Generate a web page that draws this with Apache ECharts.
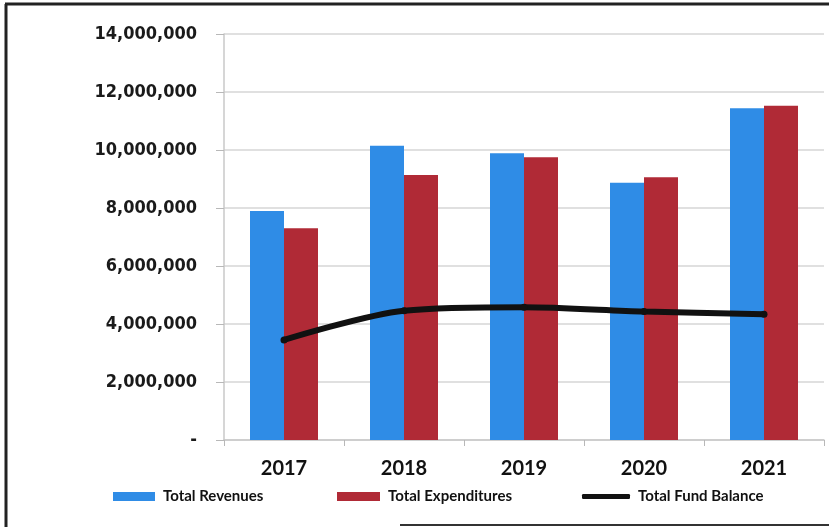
<!DOCTYPE html>
<html>
<head>
<meta charset="utf-8">
<script src="https://cdn.jsdelivr.net/npm/echarts@6/dist/echarts.min.js"></script>
<style>
  html, body { margin: 0; padding: 0; background: #fff; }
  #chart { width: 829px; height: 527px; }
</style>
</head>
<body>
<div id="chart"></div>
<script>
// Fiscal years and fund totals (dollars)
const years = ['2017', '2018', '2019', '2020', '2021'];
const totalRevenues = [7900000, 10150000, 9890000, 8870000, 11440000];
const totalExpenditures = [7300000, 9140000, 9750000, 9060000, 11530000];
const totalFundBalance = [3450000, 4460000, 4580000, 4430000, 4340000];
const yTicks = { min: 0, max: 14000000, interval: 2000000 };

const BLUE = '#2f8ce6';
const RED = '#b02a36';
const BLACK = '#111111';

const chart = echarts.init(document.getElementById('chart'));

function fmt(v) {
  if (v === 0) return '-';
  return String(v).replace(/\B(?=(\d{3})+(?!\d))/g, ',');
}

const legendText = {
  fontFamily: 'Lato, "Liberation Sans Narrow", sans-serif',
  fontWeight: 'bold',
  fontSize: 15,
  color: '#111',
  padding: [0, 0, 0, 3]
};

chart.setOption({
  backgroundColor: '#ffffff',
  animation: false,
  grid: { left: 224, right: 5, top: 34, bottom: 87 },
  legend: [
    { data: [{ name: 'Total Revenues', icon: 'rect' }], left: 113, top: 489, itemWidth: 42, itemHeight: 9, textStyle: legendText, itemGap: 0, padding: 0 },
    { data: [{ name: 'Total Expenditures', icon: 'rect' }], left: 337, top: 489, itemWidth: 43, itemHeight: 9, textStyle: legendText, itemGap: 0, padding: 0 },
    {
      data: [{ name: 'Total Fund Balance', icon: 'roundRect' }],
      left: 582, top: 489, itemWidth: 48, itemHeight: 5,
      itemStyle: { color: BLACK },
      textStyle: legendText, itemGap: 0, padding: 0
    }
  ],
  xAxis: {
    type: 'category',
    data: years,
    axisLine: { show: true, lineStyle: { color: '#c8c8c8', width: 1.5 } },
    axisTick: { show: true, alignWithLabel: false, length: 6, lineStyle: { color: '#b8b8b8' } },
    axisLabel: {
      margin: 19,
      fontFamily: 'Lato, sans-serif',
      fontWeight: 'bold',
      fontSize: 20,
      color: '#111'
    }
  },
  yAxis: {
    type: 'value',
    min: yTicks.min,
    max: yTicks.max,
    interval: yTicks.interval,
    axisLine: { show: true, lineStyle: { color: '#c8c8c8', width: 1.5 } },
    axisTick: { show: true, inside: false, length: 8, lineStyle: { color: '#b8b8b8' } },
    splitLine: { show: true, lineStyle: { color: '#d6d6d6', width: 1.5 } },
    axisLabel: {
      margin: 27,
      fontFamily: '"DejaVu Sans Condensed", "DejaVu Sans", sans-serif',
      fontWeight: 'bold',
      fontSize: 18,
      color: '#1a1a1a',
      formatter: fmt
    }
  },
  series: [
    {
      name: 'Total Revenues',
      type: 'bar',
      data: totalRevenues,
      barWidth: 34,
      barGap: '0%',
      itemStyle: { color: BLUE }
    },
    {
      name: 'Total Expenditures',
      type: 'bar',
      data: totalExpenditures,
      barWidth: 34,
      barGap: '0%',
      itemStyle: { color: RED }
    },
    {
      name: 'Total Fund Balance',
      type: 'line',
      data: totalFundBalance,
      smooth: 0.3,
      symbol: 'circle',
      symbolSize: 7,
      itemStyle: { color: BLACK },
      lineStyle: { color: BLACK, width: 6 },
      z: 5
    }
  ],
  graphic: [
    // outer frame pieces
    { type: 'line', shape: { x1: 6, y1: 4, x2: 6, y2: 527 }, style: { stroke: '#222', lineWidth: 3 } },
    { type: 'line', shape: { x1: 5, y1: 4, x2: 829, y2: 4 }, style: { stroke: '#222', lineWidth: 3 } },
    { type: 'line', shape: { x1: 400, y1: 525, x2: 829, y2: 525 }, style: { stroke: '#333', lineWidth: 2 } }
  ]
});
</script>
</body>
</html>
